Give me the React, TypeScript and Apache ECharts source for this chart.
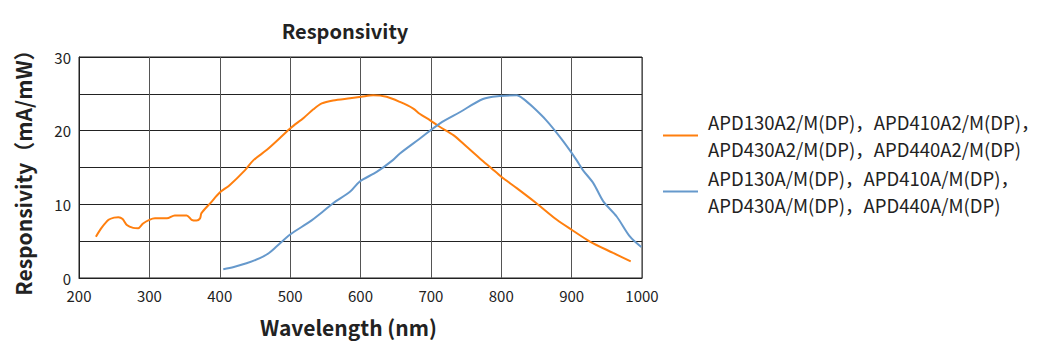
import React, { useEffect, useRef } from "react";
import * as echarts from "echarts";

const orangeName = "APD130A2/M(DP)，APD410A2/M(DP)，\nAPD430A2/M(DP)，APD440A2/M(DP)";
const blueName = "APD130A/M(DP)，APD410A/M(DP)，\nAPD430A/M(DP)，APD440A/M(DP)";

const orangeWl = [224, 232, 242, 250, 256, 262, 268, 277, 284, 291, 300, 308, 325, 336, 353, 360, 367, 372, 374, 387, 400, 414, 436, 448, 467, 490, 500, 520, 533, 545, 561, 585, 601, 618, 637, 656, 675, 684, 699, 713, 732, 751, 770, 786, 800, 822, 850, 879, 900, 926, 959, 984];
const orangeVal = [5.6, 6.8, 7.9, 8.2, 8.25, 8.0, 7.2, 6.8, 6.75, 7.4, 7.9, 8.1, 8.1, 8.5, 8.5, 7.9, 7.8, 8.1, 8.8, 10.2, 11.6, 12.6, 14.65, 16.0, 17.4, 19.4, 20.3, 21.8, 22.9, 23.7, 24.1, 24.4, 24.6, 24.8, 24.6, 23.9, 23.0, 22.3, 21.4, 20.5, 19.4, 17.8, 16.2, 14.9, 13.75, 12.2, 10.15, 7.9, 6.55, 4.95, 3.4, 2.25];

const blueWl = [405, 420, 438, 457, 470, 481, 500, 528, 545, 561, 585, 599, 623, 646, 656, 684, 713, 741, 774, 798, 822, 831, 845, 864, 883, 897, 907, 916, 931, 945, 964, 983, 999];
const blueVal = [1.2, 1.5, 2.0, 2.7, 3.4, 4.3, 5.9, 7.65, 8.9, 10.15, 11.7, 13.1, 14.4, 16.0, 16.9, 18.9, 21.0, 22.5, 24.3, 24.7, 24.8, 24.35, 23.2, 21.4, 19.2, 17.4, 16.0, 14.65, 12.85, 10.4, 8.35, 5.6, 4.2];

const xTicks = [200, 300, 400, 500, 600, 700, 800, 900, 1000];
const yLabelled = [0, 10, 20, 30];

const FONT = "'Noto Sans CJK SC', 'Noto Sans', sans-serif";

export default function App() {
  const ref = useRef<HTMLDivElement>(null);
  useEffect(() => {
    if (!ref.current) return;
    const chart = echarts.init(ref.current, undefined, { renderer: "svg" });
    chart.setOption({
      animation: false,
      backgroundColor: "#ffffff",
      textStyle: { fontFamily: FONT },
      title: {
        text: "Responsivity",
        left: 340,
        textAlign: "center",
        top: 15,
        textStyle: { fontSize: 20, fontWeight: "bold", color: "#222", fontFamily: FONT },
      },
      legend: {
        orient: "vertical",
        left: 658,
        top: 103.5,
        itemWidth: 35,
        itemHeight: 14,
        itemGap: 2,
        icon: "path://M0,6 L35,6 L35,8 L0,8 Z",
        textStyle: { fontSize: 18.5, lineHeight: 27, color: "#222", fontFamily: FONT, padding: [0, 0, 0, 5] },
        data: [orangeName, blueName],
      },
      grid: {
        left: 79,
        right: 410,
        top: 57,
        bottom: 77,
        show: true,
        borderColor: "#222",
        borderWidth: 1,
      },
      xAxis: {
        type: "value",
        min: 200,
        max: 1000,
        interval: 100,
        name: "Wavelength (nm)",
        nameLocation: "middle",
        nameGap: 38,
        nameTextStyle: { fontSize: 21, fontWeight: "bold", color: "#222", fontFamily: FONT, padding: [0, 24, 0, 0] },
        axisLine: { show: true, lineStyle: { color: "#222", width: 1 } },
        axisTick: { show: false },
        axisLabel: {
          fontSize: 15,
          color: "#222",
          margin: 10,
          formatter: (v: number) => (xTicks.includes(v) ? String(v) : ""),
        },
        splitLine: { show: true, lineStyle: { color: "#555", width: 1 } },
      },
      yAxis: {
        type: "value",
        min: 0,
        max: 30,
        interval: 5,
        name: "Responsivity（mA/mW）",
        nameLocation: "middle",
        nameGap: 46,
        nameRotate: 90,
        nameTextStyle: { fontSize: 21, fontWeight: "bold", color: "#222", fontFamily: FONT },
        axisLine: { show: true, lineStyle: { color: "#222", width: 1 } },
        axisTick: { show: false },
        axisLabel: {
          fontSize: 15,
          color: "#222",
          margin: 8,
          formatter: (v: number) => (yLabelled.includes(v) ? String(v) : ""),
        },
        splitLine: { show: true, lineStyle: { color: "#222", width: 1 } },
      },
      series: [
        {
          name: orangeName,
          type: "line",
          showSymbol: false,
          smooth: 0.3,
          color: "#FF7F0E",
          lineStyle: { width: 2, color: "#FF7F0E" },
          data: orangeWl.map((w, i) => [w, orangeVal[i]]),
        },
        {
          name: blueName,
          type: "line",
          showSymbol: false,
          smooth: 0.3,
          color: "#6699CC",
          lineStyle: { width: 2, color: "#6699CC" },
          data: blueWl.map((w, i) => [w, blueVal[i]]),
        },
      ],
    });
    return () => chart.dispose();
  }, []);
  return <div ref={ref} style={{ width: 1052, height: 355, position: "absolute", left: 0, top: 0 }} />;
}
